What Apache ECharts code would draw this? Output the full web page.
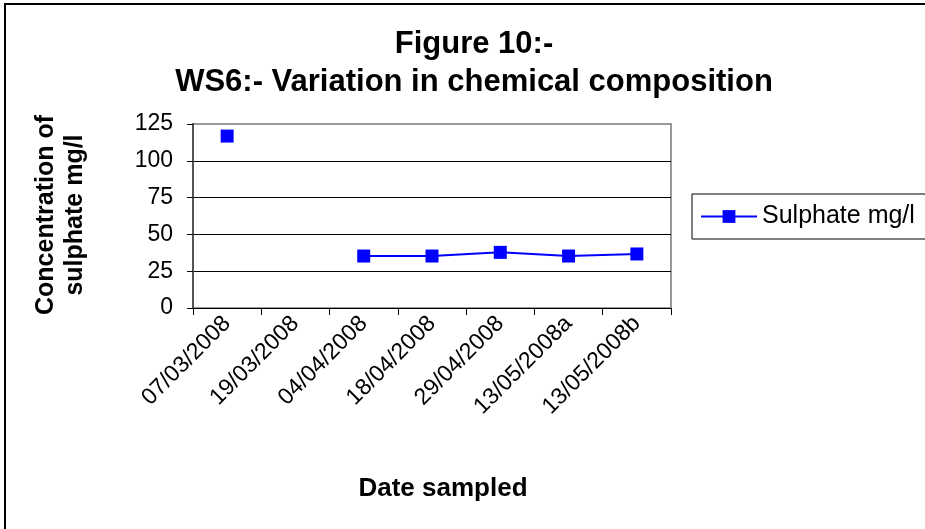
<!DOCTYPE html>
<html>
<head>
<meta charset="utf-8">
<script src="https://cdn.jsdelivr.net/npm/echarts@6/dist/echarts.min.js"></script>
<style>
  html, body { margin: 0; padding: 0; background: #fff; }
  #chart { width: 925px; height: 529px; }
</style>
</head>
<body>
<div id="chart"></div>
<script>
var dates = ['07/03/2008', '19/03/2008', '04/04/2008', '18/04/2008', '29/04/2008', '13/05/2008a', '13/05/2008b']
var sulphate = [116.8, '-', 35.3, 35.3, 37.8, 35.3, 36.7]
var yTicks = [0, 25, 50, 75, 100, 125]

var font = 'Arial, "Liberation Sans", sans-serif'
var myChart = echarts.init(document.getElementById('chart'))

var option = {
  backgroundColor: '#fff',
  animation: false,
  textStyle: { fontFamily: font },
  grid: {
    left: 193,
    top: 124,
    right: 254,
    bottom: 221,
    show: true,
    borderColor: '#9a9a9a',
    borderWidth: 2,
    backgroundColor: '#fff'
  },
  graphic: [
    {
      type: 'rect',
      shape: { x: 5, y: 4, width: 1000, height: 1000 },
      style: { fill: 'none', stroke: '#000', lineWidth: 2 },
      silent: true
    },
    {
      type: 'text',
      x: 474,
      y: 44,
      style: { text: 'Figure 10:-', font: 'bold 31px ' + font, fill: '#000', align: 'center', verticalAlign: 'middle' }
    },
    {
      type: 'text',
      x: 474,
      y: 82,
      style: { text: 'WS6:- Variation in chemical composition', font: 'bold 31px ' + font, fill: '#000', align: 'center', verticalAlign: 'middle' }
    },
    {
      type: 'text',
      x: 61,
      y: 215,
      rotation: Math.PI / 2,
      style: { text: 'Concentration of\nsulphate mg/l', font: 'bold 25px ' + font, lineHeight: 29, fill: '#000', align: 'center', verticalAlign: 'middle' }
    }
  ],
  legend: {
    data: ['Sulphate mg/l'],
    left: 692,
    top: 194,
    orient: 'vertical',
    itemWidth: 56,
    itemHeight: 16,
    itemGap: 0,
    padding: [10, 60, 10, 8],
    borderColor: '#000',
    borderWidth: 1,
    textStyle: { fontSize: 25, color: '#000', fontFamily: font }
  },
  xAxis: {
    type: 'category',
    data: dates,
    boundaryGap: true,
    name: 'Date sampled',
    nameLocation: 'middle',
    nameGap: 168,
    nameTextStyle: { fontSize: 26, fontWeight: 'bold', color: '#000', padding: [0, 0, 0, 22] },
    axisLine: { show: true, lineStyle: { color: '#000', width: 1 } },
    axisTick: { show: true, length: 7, lineStyle: { color: '#000' } },
    axisLabel: { rotate: 45, fontSize: 23, color: '#000', margin: 12, interval: 0 },
    splitLine: { show: false }
  },
  yAxis: {
    type: 'value',
    min: yTicks[0],
    max: yTicks[yTicks.length - 1],
    interval: 25,
    axisLine: { show: true, lineStyle: { color: '#555', width: 2 } },
    axisTick: { show: true, length: 6, lineStyle: { color: '#000' } },
    axisLabel: { fontSize: 23, color: '#000', margin: 20 },
    splitLine: { show: true, lineStyle: { color: ['#000', '#000', '#000', '#000', '#000', '#9a9a9a'], width: 1 } }
  },
  series: [
    {
      name: 'Sulphate mg/l',
      type: 'line',
      data: sulphate,
      connectNulls: false,
      symbol: 'rect',
      symbolSize: 13,
      showAllSymbol: true,
      itemStyle: { color: '#0000ff' },
      lineStyle: { color: '#0000ff', width: 2 }
    }
  ]
}
myChart.setOption(option)
</script>
</body>
</html>
